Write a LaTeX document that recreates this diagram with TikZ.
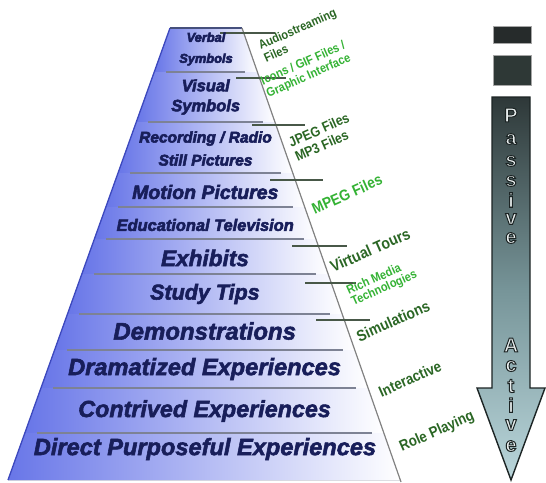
\documentclass[tikz,border=0pt]{standalone}
\usepackage{fontspec}
\setmainfont{Liberation Sans}
\newfontfamily\lblfont[FakeStretch=0.88]{Liberation Sans}
\usetikzlibrary{calc}
\definecolor{pyrblue}{RGB}{104,118,232}
\definecolor{pyredge}{RGB}{60,72,190}
\definecolor{topc}{RGB}{70,80,125}
\definecolor{navy}{RGB}{24,30,90}
\definecolor{sepgray}{RGB}{125,130,148}
\definecolor{diagc}{RGB}{130,130,130}
\definecolor{tickc}{RGB}{72,88,72}
\definecolor{dgreen}{RGB}{42,102,36}
\definecolor{bgreen}{RGB}{52,178,52}
\definecolor{arrdark}{RGB}{46,56,56}
\definecolor{arrmid}{RGB}{118,148,152}
\definecolor{arrlight}{RGB}{186,214,219}
\definecolor{arredge}{RGB}{28,36,36}
\definecolor{letfill}{RGB}{232,238,238}
\definecolor{boxa}{RGB}{38,43,43}
\definecolor{boxb}{RGB}{46,56,54}
% slightly heavier text: fill and stroke with the current colour
\newcommand{\emb}[1]{\special{pdf:literal direct 2 Tr 0.55 w}#1\special{pdf:literal direct 0 Tr}}
% outlined letter: light fill, dark stroke
\newcommand{\olet}[1]{\special{pdf:literal direct 0.11 0.14 0.14 RG 2 Tr 1.0 w}#1\special{pdf:literal direct 0 Tr}}
\begin{document}
\begin{tikzpicture}[x=1pt,y=-1pt,
  lvl/.style={text=navy, align=center, inner sep=0pt},
  sepline/.style={draw=sepgray, line width=1.1pt},
  tickline/.style={draw=tickc, line width=1.2pt},
  lbl/.style={rotate=24, align=left, inner sep=0pt},
  arrlet/.style={font=\fontsize{20}{20}\selectfont\bfseries, text=letfill, inner sep=0pt}]
\useasboundingbox (0,0) rectangle (546,482);
% pyramid body
\fill[pyrblue!40] (170,28) -- (242,28) -- (400.2,480) -- (8,480) -- cycle;
\foreach \ya/\yb in {28/72,72/122,122/173,173/207,207/239,239/274,274/314,314/350,350/388,388/433,433/480}{
  \fill[left color=pyrblue, right color=white]
    ({170-0.3584*(\ya-28)},\ya) -- ({242+0.35*(\ya-28)},\ya) --
    ({242+0.35*(\yb-28)},\yb) -- ({170-0.3584*(\yb-28)},\yb) -- cycle;
}
\foreach \y in {72,122,173,207,239,274,314,350,388,433}{
  \draw[sepline] ({170-0.3584*(\y-28)+12},\y) -- ({242+0.35*(\y-28)-12},\y);
}
\draw[pyredge, line width=1.3pt] (170,28) -- (8,480);
\draw[topc, line width=2.4pt] (170,28) -- (242,28);
\draw[diagc, line width=1.2pt] (242,28) -- (401,482);
% tick lines
\draw[tickline] (220,33) -- (275,33);
\draw[tickline] (236,78) -- (286,78);
\draw[tickline] (252,125) -- (305,125);
\draw[tickline] (270,180) -- (323,180);
\draw[tickline] (292,246) -- (347,246);
\draw[tickline] (305,283) -- (356,283);
\draw[tickline] (316,320) -- (370,320);
% level texts
\node[lvl, font=\fontsize{12.8}{21}\selectfont\bfseries\itshape] (l1) at (206,49) {\emb{Verbal}\\\emb{Symbols}};
\node[lvl, font=\fontsize{16.5}{20}\selectfont\bfseries\itshape] (l2) at (205.7,97) {\emb{Visual}\\\emb{Symbols}};
\node[lvl, font=\fontsize{15.5}{23}\selectfont\bfseries\itshape] (l3) at (205.5,148.5) {\emb{Recording / Radio}\\\emb{Still Pictures}};
\node[lvl, font=\fontsize{19.5}{20}\selectfont\bfseries\itshape] (l4) at (205.3,192) {\emb{Motion Pictures}};
\node[lvl, font=\fontsize{16.4}{18}\selectfont\bfseries\itshape] (l5) at (205.2,225) {\emb{Educational Television}};
\node[lvl, font=\fontsize{22.6}{24}\selectfont\bfseries\itshape] (l6) at (205,258) {\emb{Exhibits}};
\node[lvl, font=\fontsize{21.5}{24}\selectfont\bfseries\itshape] (l7) at (204.9,294) {\emb{Study Tips}};
\node[lvl, font=\fontsize{24}{26}\selectfont\bfseries\itshape] (l8) at (204.7,331) {\emb{Demonstrations}};
\node[lvl, font=\fontsize{23.6}{26}\selectfont\bfseries\itshape] (l9) at (204.6,369) {\emb{Dramatized Experiences}};
\node[lvl, font=\fontsize{23.3}{26}\selectfont\bfseries\itshape] (l10) at (204.6,411) {\emb{Contrived Experiences}};
\node[lvl, font=\fontsize{23.6}{26}\selectfont\bfseries\itshape] (l11) at (205,449) {\emb{Direct Purposeful Experiences}};
% media labels
\node[lbl, text=dgreen, font=\lblfont\fontsize{12.5}{13.5}\selectfont\bfseries] (m1) at (300,35) {Audiostreaming\\Files};
\node[lbl, text=bgreen, font=\lblfont\fontsize{12.5}{13.5}\selectfont\bfseries] (m2) at (306,70) {Icons / GIF Files /\\Graphic Interface};
\node[lbl, text=dgreen, font=\lblfont\fontsize{14}{15.5}\selectfont\bfseries] (m3) at (322,137) {JPEG Files\\MP3 Files};
\node[lbl, text=bgreen, font=\lblfont\fontsize{15.5}{16}\selectfont\bfseries] (m4) at (347,194) {MPEG Files};
\node[lbl, text=dgreen, font=\lblfont\fontsize{16}{17}\selectfont\bfseries] (m5) at (370,250) {Virtual Tours};
\node[lbl, text=bgreen, font=\lblfont\fontsize{12.5}{12}\selectfont\bfseries] (m6) at (382,283) {Rich Media\\Technologies};
\node[lbl, text=dgreen, font=\lblfont\fontsize{15.7}{16}\selectfont\bfseries] (m7) at (393,321) {Simulations};
\node[lbl, text=dgreen, font=\lblfont\fontsize{15.2}{16}\selectfont\bfseries] (m8) at (410,379) {Interactive};
\node[lbl, text=dgreen, font=\lblfont\fontsize{15.1}{16}\selectfont\bfseries] (m9) at (437,432) {Role Playing};
% right column
\draw[fill=boxa, draw=gray!70, line width=0.8pt] (493,26) rectangle (531,43);
\draw[fill=boxb, draw=gray!70, line width=0.8pt] (493,55) rectangle (531,85);
\draw[draw=arredge, line width=1.4pt, top color=arrdark, bottom color=arrlight, middle color=arrmid]
  (492,97) -- (530,97) -- (530,388) -- (545,388) -- (511,480) -- (477,388) -- (492,388) -- cycle;
\foreach \c/\y [count=\i] in {P/115,a/139,s/161,s/181,i/200,v/219,e/238}{
  \node[arrlet] (p\i) at (511,\y) {\olet{\c}};
}
\foreach \c/\y [count=\i] in {A/345,c/366,t/386,i/405,v/425,e/446}{
  \node[arrlet] (a\i) at (511,\y) {\olet{\c}};
}
\end{tikzpicture}
\end{document}
